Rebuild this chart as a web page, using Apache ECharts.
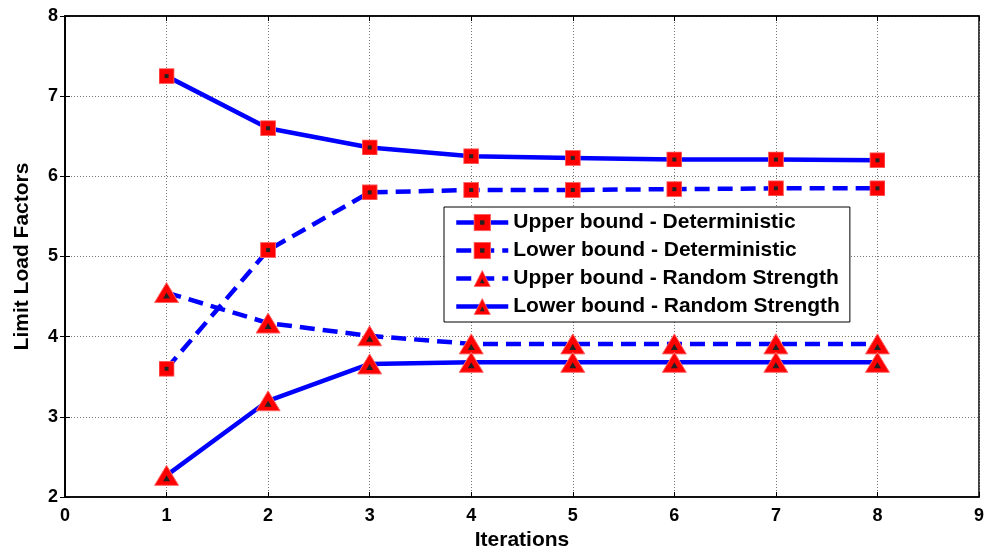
<!DOCTYPE html>
<html>
<head>
<meta charset="utf-8">
<script src="https://cdn.jsdelivr.net/npm/echarts@6/dist/echarts.min.js"></script>
<style>
html, body { margin: 0; padding: 0; background: #fff; }
#main { width: 995px; height: 556px; }
</style>
</head>
<body>
<div id="main"></div>
<script>
var iterations = [1, 2, 3, 4, 5, 6, 7, 8];
var upperDet = [7.25, 6.60, 6.36, 6.25, 6.23, 6.21, 6.21, 6.20];
var lowerDet = [3.60, 5.08, 5.80, 5.83, 5.83, 5.84, 5.85, 5.85];
var upperRand = [4.55, 4.17, 4.01, 3.91, 3.91, 3.91, 3.91, 3.91];
var lowerRand = [2.27, 3.20, 3.66, 3.68, 3.68, 3.68, 3.68, 3.68];
var xTicks = [0, 1, 2, 3, 4, 5, 6, 7, 8, 9];
var yTicks = [2, 3, 4, 5, 6, 7, 8];

// markers: red with a small black center, like the matlab ones
var squareSvg = '<svg xmlns="http://www.w3.org/2000/svg" width="16" height="16">' +
    '<rect x="0.5" y="0.5" width="15" height="15" fill="#ff0000" stroke="#ff6666" stroke-width="1"/>' +
    '<rect x="6" y="6" width="4" height="4" fill="#222"/></svg>';
var triSvg = '<svg xmlns="http://www.w3.org/2000/svg" width="26" height="22">' +
    '<polygon points="13,1 25,21 1,21" fill="#ff0000" stroke="#ff6666" stroke-width="1"/>' +
    '<polygon points="13,11 16.5,17 9.5,17" fill="#222"/></svg>';
var squareSym = 'image://data:image/svg+xml;charset=utf-8,' + encodeURIComponent(squareSvg);
var triSym = 'image://data:image/svg+xml;charset=utf-8,' + encodeURIComponent(triSvg);

function pairs(vals) {
    return iterations.map(function (x, i) { return [x, vals[i]]; });
}

function makeSeries(name, vals, dashed, sym, size) {
    return {
        name: name,
        type: 'line',
        data: pairs(vals),
        symbol: sym,
        symbolSize: size,
        showAllSymbol: true,
        lineStyle: { color: '#0000ff', width: 4.5, type: dashed ? [15, 8] : 'solid' },
        itemStyle: { color: '#ff0000' },
        animation: false,
        z: 3
    };
}

var font = 'Arial, "Liberation Sans", sans-serif';

var option = {
    backgroundColor: '#fff',
    animation: false,
    grid: {
        left: 65, right: 16, top: 16, bottom: 59,
        show: true, borderColor: '#000', borderWidth: 1.5, backgroundColor: '#fff'
    },
    legend: {
        orient: 'vertical',
        left: 444, top: 207,
        padding: [5, 10, 5, 10],
        itemGap: 7,
        itemWidth: 52,
        itemHeight: 22,
        backgroundColor: '#fff',
        borderColor: '#000',
        borderWidth: 1,
        lineStyle: { width: 4.5 },
        textStyle: { fontFamily: font, fontWeight: 'bold', fontSize: 21, color: '#000' },
        data: ['Upper bound - Deterministic', 'Lower bound - Deterministic',
            'Upper bound - Random Strength', 'Lower bound - Random Strength']
    },
    xAxis: [{
        type: 'value',
        min: 0, max: 9, interval: 1,
        name: 'Iterations',
        nameLocation: 'middle',
        nameGap: 32,
        nameTextStyle: { fontFamily: font, fontWeight: 'bold', fontSize: 21, color: '#000' },
        axisLine: { lineStyle: { color: '#000', width: 1.5 } },
        axisTick: { inside: true, length: 5, lineStyle: { color: '#000' } },
        axisLabel: {
            fontFamily: font, fontWeight: 'bold', fontSize: 18, color: '#000', margin: 10,
            formatter: function (v) { return xTicks.indexOf(v) >= 0 ? String(v) : ''; }
        },
        splitLine: { show: true, lineStyle: { color: '#777', type: [1, 2], width: 1 } }
    }, {
        type: 'value', position: 'top',
        min: 0, max: 9, interval: 1,
        axisLine: { show: true, lineStyle: { color: '#000', width: 1.5 } },
        axisTick: { inside: true, length: 5, lineStyle: { color: '#000' } },
        axisLabel: { show: false },
        splitLine: { show: false }
    }],
    yAxis: [{
        type: 'value',
        min: 2, max: 8, interval: 1,
        name: 'Limit Load Factors',
        nameLocation: 'middle',
        nameGap: 32,
        nameTextStyle: { fontFamily: font, fontWeight: 'bold', fontSize: 21, color: '#000' },
        axisLine: { show: true, lineStyle: { color: '#000', width: 1.5 } },
        axisTick: { show: true, inside: true, length: 5, lineStyle: { color: '#000' } },
        axisLabel: {
            fontFamily: font, fontWeight: 'bold', fontSize: 18, color: '#000', margin: 7,
            formatter: function (v) { return yTicks.indexOf(v) >= 0 ? String(v) : ''; }
        },
        splitLine: { show: true, lineStyle: { color: '#777', type: [1, 2], width: 1 } }
    }, {
        type: 'value', position: 'right',
        min: 2, max: 8, interval: 1,
        axisLine: { show: true, lineStyle: { color: '#000', width: 1.5 } },
        axisTick: { show: true, inside: true, length: 5, lineStyle: { color: '#000' } },
        axisLabel: { show: false },
        splitLine: { show: false }
    }],
    series: [
        makeSeries('Upper bound - Deterministic', upperDet, false, squareSym, 16),
        makeSeries('Lower bound - Deterministic', lowerDet, true, squareSym, 16),
        makeSeries('Upper bound - Random Strength', upperRand, true, triSym, [26, 22]),
        makeSeries('Lower bound - Random Strength', lowerRand, false, triSym, [26, 22])
    ]
};

var myChart = echarts.init(document.getElementById('main'));
myChart.setOption(option);
</script>
</body>
</html>
